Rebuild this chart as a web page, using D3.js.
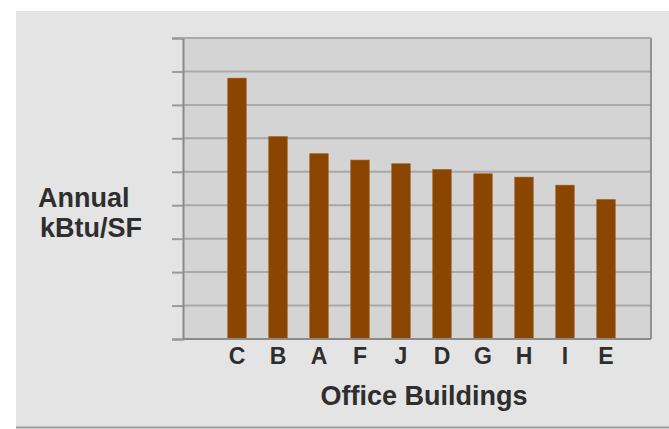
<!DOCTYPE html>
<html><head><meta charset="utf-8">
<script src="https://cdn.jsdelivr.net/npm/d3@7"></script>
<style>html,body{margin:0;padding:0;background:#fff;}svg{display:block;}</style>
</head><body>
<svg id="chart" width="669" height="429"></svg>
<script>
const categories = ["C","B","A","F","J","D","G","H","I","E"];
const values = [78.0, 60.5, 55.4, 53.5, 52.4, 50.7, 49.4, 48.4, 46.0, 41.7];
const yTicks = [0,10,20,30,40,50,60,70,80,90];
const yLabelLines = ["Annual","kBtu/SF"];
const xTitle = "Office Buildings";

const svg = d3.select("#chart");
const font = "'Liberation Sans', Arial, Helvetica, sans-serif";

// outer background
svg.append("rect").attr("x",16).attr("y",11).attr("width",653).attr("height",416).attr("fill","#e4e4e4");
svg.append("line").attr("x1",16).attr("x2",669).attr("y1",427.5).attr("y2",427.5).attr("stroke","#9a9a9a").attr("stroke-width",2);

const plot = {left:183, right:651, top:38, bottom:339};
const y = d3.scaleLinear().domain([0,90]).range([plot.bottom, plot.top]);
const x = d3.scaleBand().domain(categories).range([216.5, 626.5]).paddingInner(0.55).paddingOuter(0.275);

// plot background
svg.append("rect").attr("x",plot.left).attr("y",plot.top).attr("width",plot.right-plot.left).attr("height",plot.bottom-plot.top).attr("fill","#d4d4d4");

// gridlines
svg.append("g").selectAll("line").data(yTicks.slice(1)).join("line")
  .attr("x1",plot.left).attr("x2",plot.right)
  .attr("y1",d=>y(d)).attr("y2",d=>y(d))
  .attr("stroke","#a9a9a9").attr("stroke-width",2);

// left axis with ticks
const yAxis = d3.axisLeft(y).tickValues(yTicks).tickSize(11).tickFormat("");
const gy = svg.append("g").attr("transform",`translate(${plot.left},0)`).call(yAxis);
gy.select(".domain").attr("stroke","#8a8a8a").attr("stroke-width",2);
gy.selectAll(".tick line").attr("stroke","#9a9a9a").attr("stroke-width",2);

// right border
svg.append("line").attr("x1",plot.right).attr("x2",plot.right).attr("y1",plot.top).attr("y2",plot.bottom).attr("stroke","#7a7a7a").attr("stroke-width",1.5);
// top border
svg.append("line").attr("x1",plot.left).attr("x2",plot.right).attr("y1",plot.top).attr("y2",plot.top).attr("stroke","#a9a9a9").attr("stroke-width",2);

// bars
svg.append("g").selectAll("rect").data(categories).join("rect")
  .attr("x",d=>x(d)).attr("width",x.bandwidth())
  .attr("y",(d,i)=>y(values[i])).attr("height",(d,i)=>y(0)-y(values[i]))
  .attr("fill","#8a4600").attr("stroke","#a05a18").attr("stroke-width",0.6);

// bottom axis
const xAxis = d3.axisBottom(x).tickSize(0).tickPadding(0);
const gx = svg.append("g").attr("transform",`translate(0,${plot.bottom})`).call(xAxis);
gx.select(".domain").attr("d",`M${plot.left},0H${plot.right}`).attr("stroke","#8a8a8a").attr("stroke-width",2);
gx.selectAll(".tick text").attr("dy",null).attr("y",24.5)
  .attr("font-family",font).attr("font-weight","bold").attr("font-size",23).attr("fill","#2e2e2e");

// axis titles
svg.append("text").attr("x",424).attr("y",405).attr("text-anchor","middle")
  .attr("font-family",font).attr("font-weight","bold").attr("font-size",27).attr("fill","#2e2e2e").text(xTitle);
svg.append("g").selectAll("text").data(yLabelLines).join("text")
  .attr("x",(d,i)=>i===0?38:40).attr("y",(d,i)=>207+i*30)
  .attr("font-family",font).attr("font-weight","bold").attr("font-size",27).attr("fill","#2e2e2e").text(d=>d);
</script>
</body></html>
